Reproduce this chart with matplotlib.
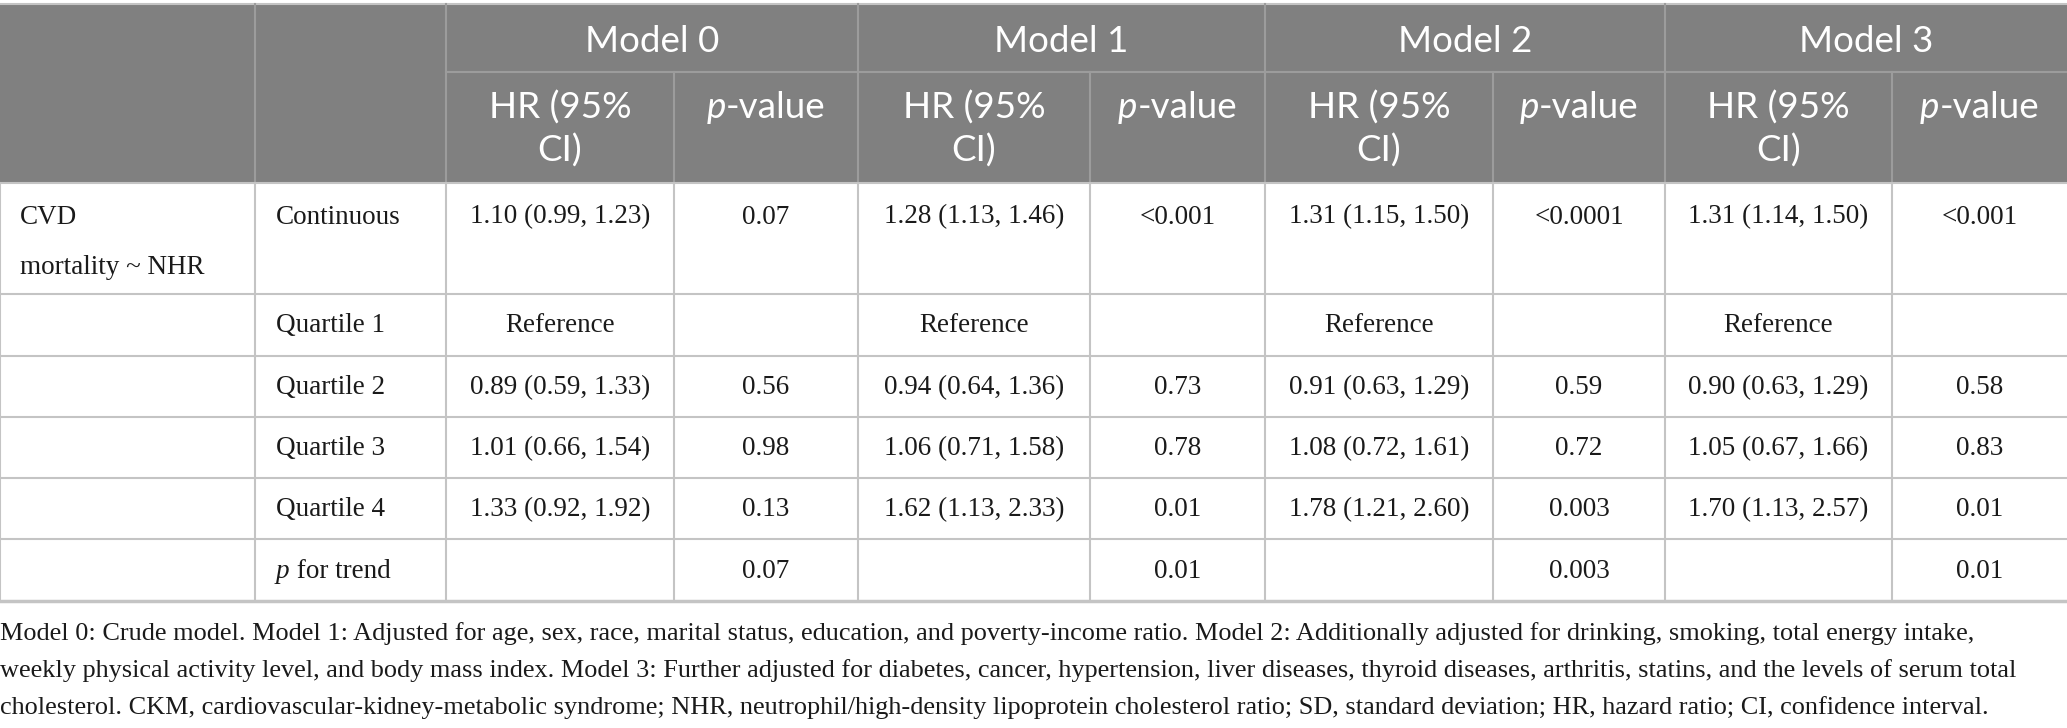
import matplotlib
matplotlib.use("Agg")
import matplotlib.pyplot as plt
from matplotlib.patches import Rectangle

# table content
models = ["Model 0", "Model 1", "Model 2", "Model 3"]
group_label = ["CVD", "mortality ~ NHR"]
row_labels = ["Continuous", "Quartile 1", "Quartile 2", "Quartile 3", "Quartile 4", "p for trend"]

hr_m0 = ["1.10 (0.99, 1.23)", "Reference", "0.89 (0.59, 1.33)", "1.01 (0.66, 1.54)", "1.33 (0.92, 1.92)", ""]
p_m0 = ["0.07", "", "0.56", "0.98", "0.13", "0.07"]
hr_m1 = ["1.28 (1.13, 1.46)", "Reference", "0.94 (0.64, 1.36)", "1.06 (0.71, 1.58)", "1.62 (1.13, 2.33)", ""]
p_m1 = ["<0.001", "", "0.73", "0.78", "0.01", "0.01"]
hr_m2 = ["1.31 (1.15, 1.50)", "Reference", "0.91 (0.63, 1.29)", "1.08 (0.72, 1.61)", "1.78 (1.21, 2.60)", ""]
p_m2 = ["<0.0001", "", "0.59", "0.72", "0.003", "0.003"]
hr_m3 = ["1.31 (1.14, 1.50)", "Reference", "0.90 (0.63, 1.29)", "1.05 (0.67, 1.66)", "1.70 (1.13, 2.57)", ""]
p_m3 = ["<0.001", "", "0.58", "0.83", "0.01", "0.01"]

footnote = [
    "Model 0: Crude model. Model 1: Adjusted for age, sex, race, marital status, education, and poverty-income ratio. Model 2: Additionally adjusted for drinking, smoking, total energy intake,",
    "weekly physical activity level, and body mass index. Model 3: Further adjusted for diabetes, cancer, hypertension, liver diseases, thyroid diseases, arthritis, statins, and the levels of serum total",
    "cholesterol. CKM, cardiovascular-kidney-metabolic syndrome; NHR, neutrophil/high-density lipoprotein cholesterol ratio; SD, standard deviation; HR, hazard ratio; CI, confidence interval.",
]

# layout (pixels)
W, H = 2067, 728
col_x = [0, 255, 446, 674, 858, 1090, 1265, 1493, 1665, 1892, 2067]
row_y = [4, 72, 183, 294, 356, 417, 478, 539, 601]

HEAD_BG = "#808080"
HEAD_LINE = "#9c9c9c"
GRID = "#c4c4c4"
TXT = "#1a1a1a"
SERIF = "Liberation Serif"
SANS = "Lato"
BODY_FS = 19.5
NOTE_FS = 18.9
HEAD_FS = 26.5

fig = plt.figure(figsize=(W / 100, H / 100), dpi=100)
ax = fig.add_axes([0, 0, 1, 1])
ax.set_xlim(0, W)
ax.set_ylim(H, 0)
ax.axis("off")
renderer = fig.canvas.get_renderer()


def runs_text(x, y, runs, ha="left", va="center", **kw):
    # draw pieces of text with different styles next to each other
    objs = []
    for s, style in runs:
        t = ax.text(x, y, s, va=va, ha="left", fontstyle=style, **kw)
        objs.append(t)
    widths = [t.get_window_extent(renderer).width for t in objs]
    total = sum(widths)
    if ha == "center":
        x0 = x - total / 2
    elif ha == "right":
        x0 = x - total
    else:
        x0 = x
    for t, w in zip(objs, widths):
        t.set_x(x0)
        x0 += w


# header background
ax.add_patch(Rectangle((0, row_y[0]), W, row_y[2] - row_y[0], facecolor=HEAD_BG, edgecolor="none", zorder=0))

# header lines
ax.plot([0, W], [row_y[0], row_y[0]], color=GRID, lw=1.5)
ax.plot([col_x[2], W], [row_y[1], row_y[1]], color=HEAD_LINE, lw=1.5)
for i, x in enumerate(col_x[1:-1], start=1):
    top = row_y[0] if (i <= 2 or i % 2 == 0) else row_y[1]
    ax.plot([x, x], [top, row_y[2]], color=HEAD_LINE, lw=1.5)

# header text
for k, m in enumerate(models):
    cx = (col_x[2 + 2 * k] + col_x[4 + 2 * k]) / 2
    ax.text(cx, 41, m, ha="center", va="center", color="white", family=SANS, fontsize=HEAD_FS)
    hx = (col_x[2 + 2 * k] + col_x[3 + 2 * k]) / 2
    px = (col_x[3 + 2 * k] + col_x[4 + 2 * k]) / 2
    ax.text(hx, 108, "HR (95%", ha="center", va="center", color="white", family=SANS, fontsize=HEAD_FS)
    ax.text(hx, 151, "CI)", ha="center", va="center", color="white", family=SANS, fontsize=HEAD_FS)
    runs_text(px, 108, [("p", "italic"), ("-value", "normal")], ha="center",
              color="white", family=SANS, fontsize=HEAD_FS)

# body grid
for y in row_y[2:]:
    lw = 2.5 if y == row_y[-1] else 1.5
    ax.plot([0, W], [y, y], color=GRID, lw=lw)
for x in col_x[:-1]:
    ax.plot([x, x], [row_y[2], row_y[-1]], color=GRID, lw=1.5)

# body text
ax.text(20, 217, group_label[0], ha="left", va="center", family=SERIF, fontsize=BODY_FS, color=TXT)
ax.text(20, 267, group_label[1], ha="left", va="center", family=SERIF, fontsize=BODY_FS, color=TXT)

hr_cols = [hr_m0, hr_m1, hr_m2, hr_m3]
p_cols = [p_m0, p_m1, p_m2, p_m3]
for r, lab in enumerate(row_labels):
    if r == 0:
        cy = 217
    else:
        cy = (row_y[2 + r] + row_y[3 + r]) / 2 + 1
    if lab.startswith("p "):
        runs_text(276, cy, [("p", "italic"), (lab[1:], "normal")], family=SERIF,
                  fontsize=BODY_FS, color=TXT)
    else:
        ax.text(276, cy, lab, ha="left", va="center", family=SERIF, fontsize=BODY_FS, color=TXT)
    for k in range(4):
        hx = (col_x[2 + 2 * k] + col_x[3 + 2 * k]) / 2
        px = (col_x[3 + 2 * k] + col_x[4 + 2 * k]) / 2
        ax.text(hx, cy, hr_cols[k][r], ha="center", va="center", family=SERIF, fontsize=BODY_FS, color=TXT)
        ax.text(px, cy, p_cols[k][r], ha="center", va="center", family=SERIF, fontsize=BODY_FS, color=TXT)

# footnote
for i, line in enumerate(footnote):
    ax.text(0, 634 + 37 * i, line, ha="left", va="center", family=SERIF, fontsize=NOTE_FS, color=TXT)

fig.savefig("out.png", dpi=100)
